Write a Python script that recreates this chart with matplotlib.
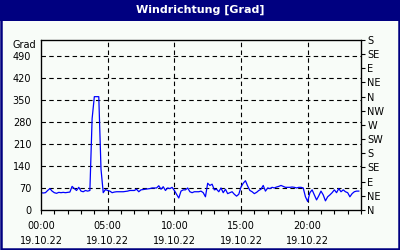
"""Wind direction chart (one day, 10 minute samples)."""

import matplotlib
matplotlib.use("Agg")
import matplotlib.pyplot as plt
import matplotlib.patches as mpatches
import numpy as np

NAVY = "#000080"
BG = "#F8FCF8"

# wind direction in degrees, one value every 10 minutes from 00:00 to 23:50
direction = [
    55, 54, 55, 62, 68, 60,       # 00h
    55, 53, 56, 55, 56, 55,       # 01h
    56, 57, 75, 68, 62, 72,       # 02h
    60, 58, 62, 60, 62, 290,      # 03h
    360, 360, 360, 130, 55, 65,   # 04h
    62, 60, 55, 57, 58, 58,       # 05h
    58, 58, 59, 60, 62, 62,       # 06h
    62, 66, 58, 64, 65, 66,       # 07h
    67, 68, 70, 70, 70, 77,       # 08h
    66, 74, 62, 70, 68, 72,       # 09h
    62, 50, 38, 60, 64, 64,       # 10h
    70, 58, 55, 58, 58, 58,       # 11h
    60, 55, 42, 85, 78, 82,       # 12h
    64, 66, 58, 70, 55, 66,       # 13h
    52, 55, 58, 50, 44, 50,       # 14h
    73, 85, 93, 76, 62, 58,       # 15h
    52, 56, 62, 66, 78, 60,       # 16h
    70, 68, 72, 70, 73, 75,       # 17h
    78, 75, 72, 72, 72, 73,       # 18h
    72, 70, 72, 72, 70, 42,       # 19h
    27, 55, 64, 48, 32, 45,       # 20h
    60, 48, 29, 42, 48, 55,       # 21h
    64, 55, 68, 58, 64, 58,       # 22h
    55, 42, 52, 58, 60, 60,       # 23h
]
hours = np.arange(len(direction)) / 6.0

x_ticks = [0, 5, 10, 15, 20]
x_labels = ["00:00\n19.10.22", "05:00\n19.10.22", "10:00\n19.10.22",
            "15:00\n19.10.22", "20:00\n19.10.22"]
deg_ticks = [0, 70, 140, 210, 280, 350, 420, 490]
compass_ticks = [0, 45, 90, 135, 180, 225, 270, 315, 360, 405, 450, 495, 540]
compass_labels = ["N", "NE", "E", "SE", "S", "SW", "W", "NW",
                  "N", "NE", "E", "SE", "S"]

plt.rcParams["font.family"] = "DejaVu Sans"
fs = 7

fig = plt.figure(figsize=(4, 2.5), dpi=100, facecolor=BG)

# title bar and frame
fig.patches.append(mpatches.Rectangle((0, 1 - 21 / 250), 1, 21 / 250,
                                      transform=fig.transFigure,
                                      facecolor=NAVY, edgecolor="none"))
fig.patches.append(mpatches.Rectangle((1 / 400, 1 / 250), 398 / 400, 248 / 250,
                                      transform=fig.transFigure, fill=False,
                                      edgecolor=NAVY, linewidth=1.8))
fig.text(0.5, 1 - 10 / 250, "Windrichtung [Grad]", ha="center", va="center",
         color="white", fontsize=8, fontweight="bold")

ax = fig.add_axes([41 / 400, 40 / 250, 320 / 400, 170 / 250])
ax.set_facecolor(BG)
ax.plot(hours, direction, color="#0000FF", linewidth=0.9)

ax.set_xlim(0, 24)
ax.set_ylim(0, 540)
ax.set_xticks(x_ticks)
ax.set_xticklabels(x_labels, fontsize=fs, linespacing=1.6)
ax.set_xticks(range(25), minor=True)
ax.set_yticks(deg_ticks)
ax.set_yticklabels([str(v) for v in deg_ticks], fontsize=fs)
ax.tick_params(axis="x", which="both", direction="out", length=3, width=0.8, pad=5)
ax.tick_params(axis="y", which="both", length=0, pad=7)

for v in deg_ticks[1:]:
    ax.axhline(v, color="black", linestyle=(0, (4, 3)), linewidth=0.8, zorder=0)
for h in x_ticks[1:]:
    ax.axvline(h, color="black", linestyle=(0, (4, 3)), linewidth=0.8, zorder=0)

for side in ax.spines.values():
    side.set_color("black")
    side.set_linewidth(0.9)

ax2 = ax.twinx()
ax2.set_ylim(0, 540)
ax2.set_yticks(compass_ticks)
ax2.set_yticklabels(compass_labels, fontsize=fs)
ax2.tick_params(axis="y", direction="out", length=3, width=0.8, pad=1.5)

fig.text(36 / 400, 1 - 45 / 250, "Grad", ha="right", va="center", fontsize=fs)

plt.savefig("out.png", dpi=100, facecolor=BG)
